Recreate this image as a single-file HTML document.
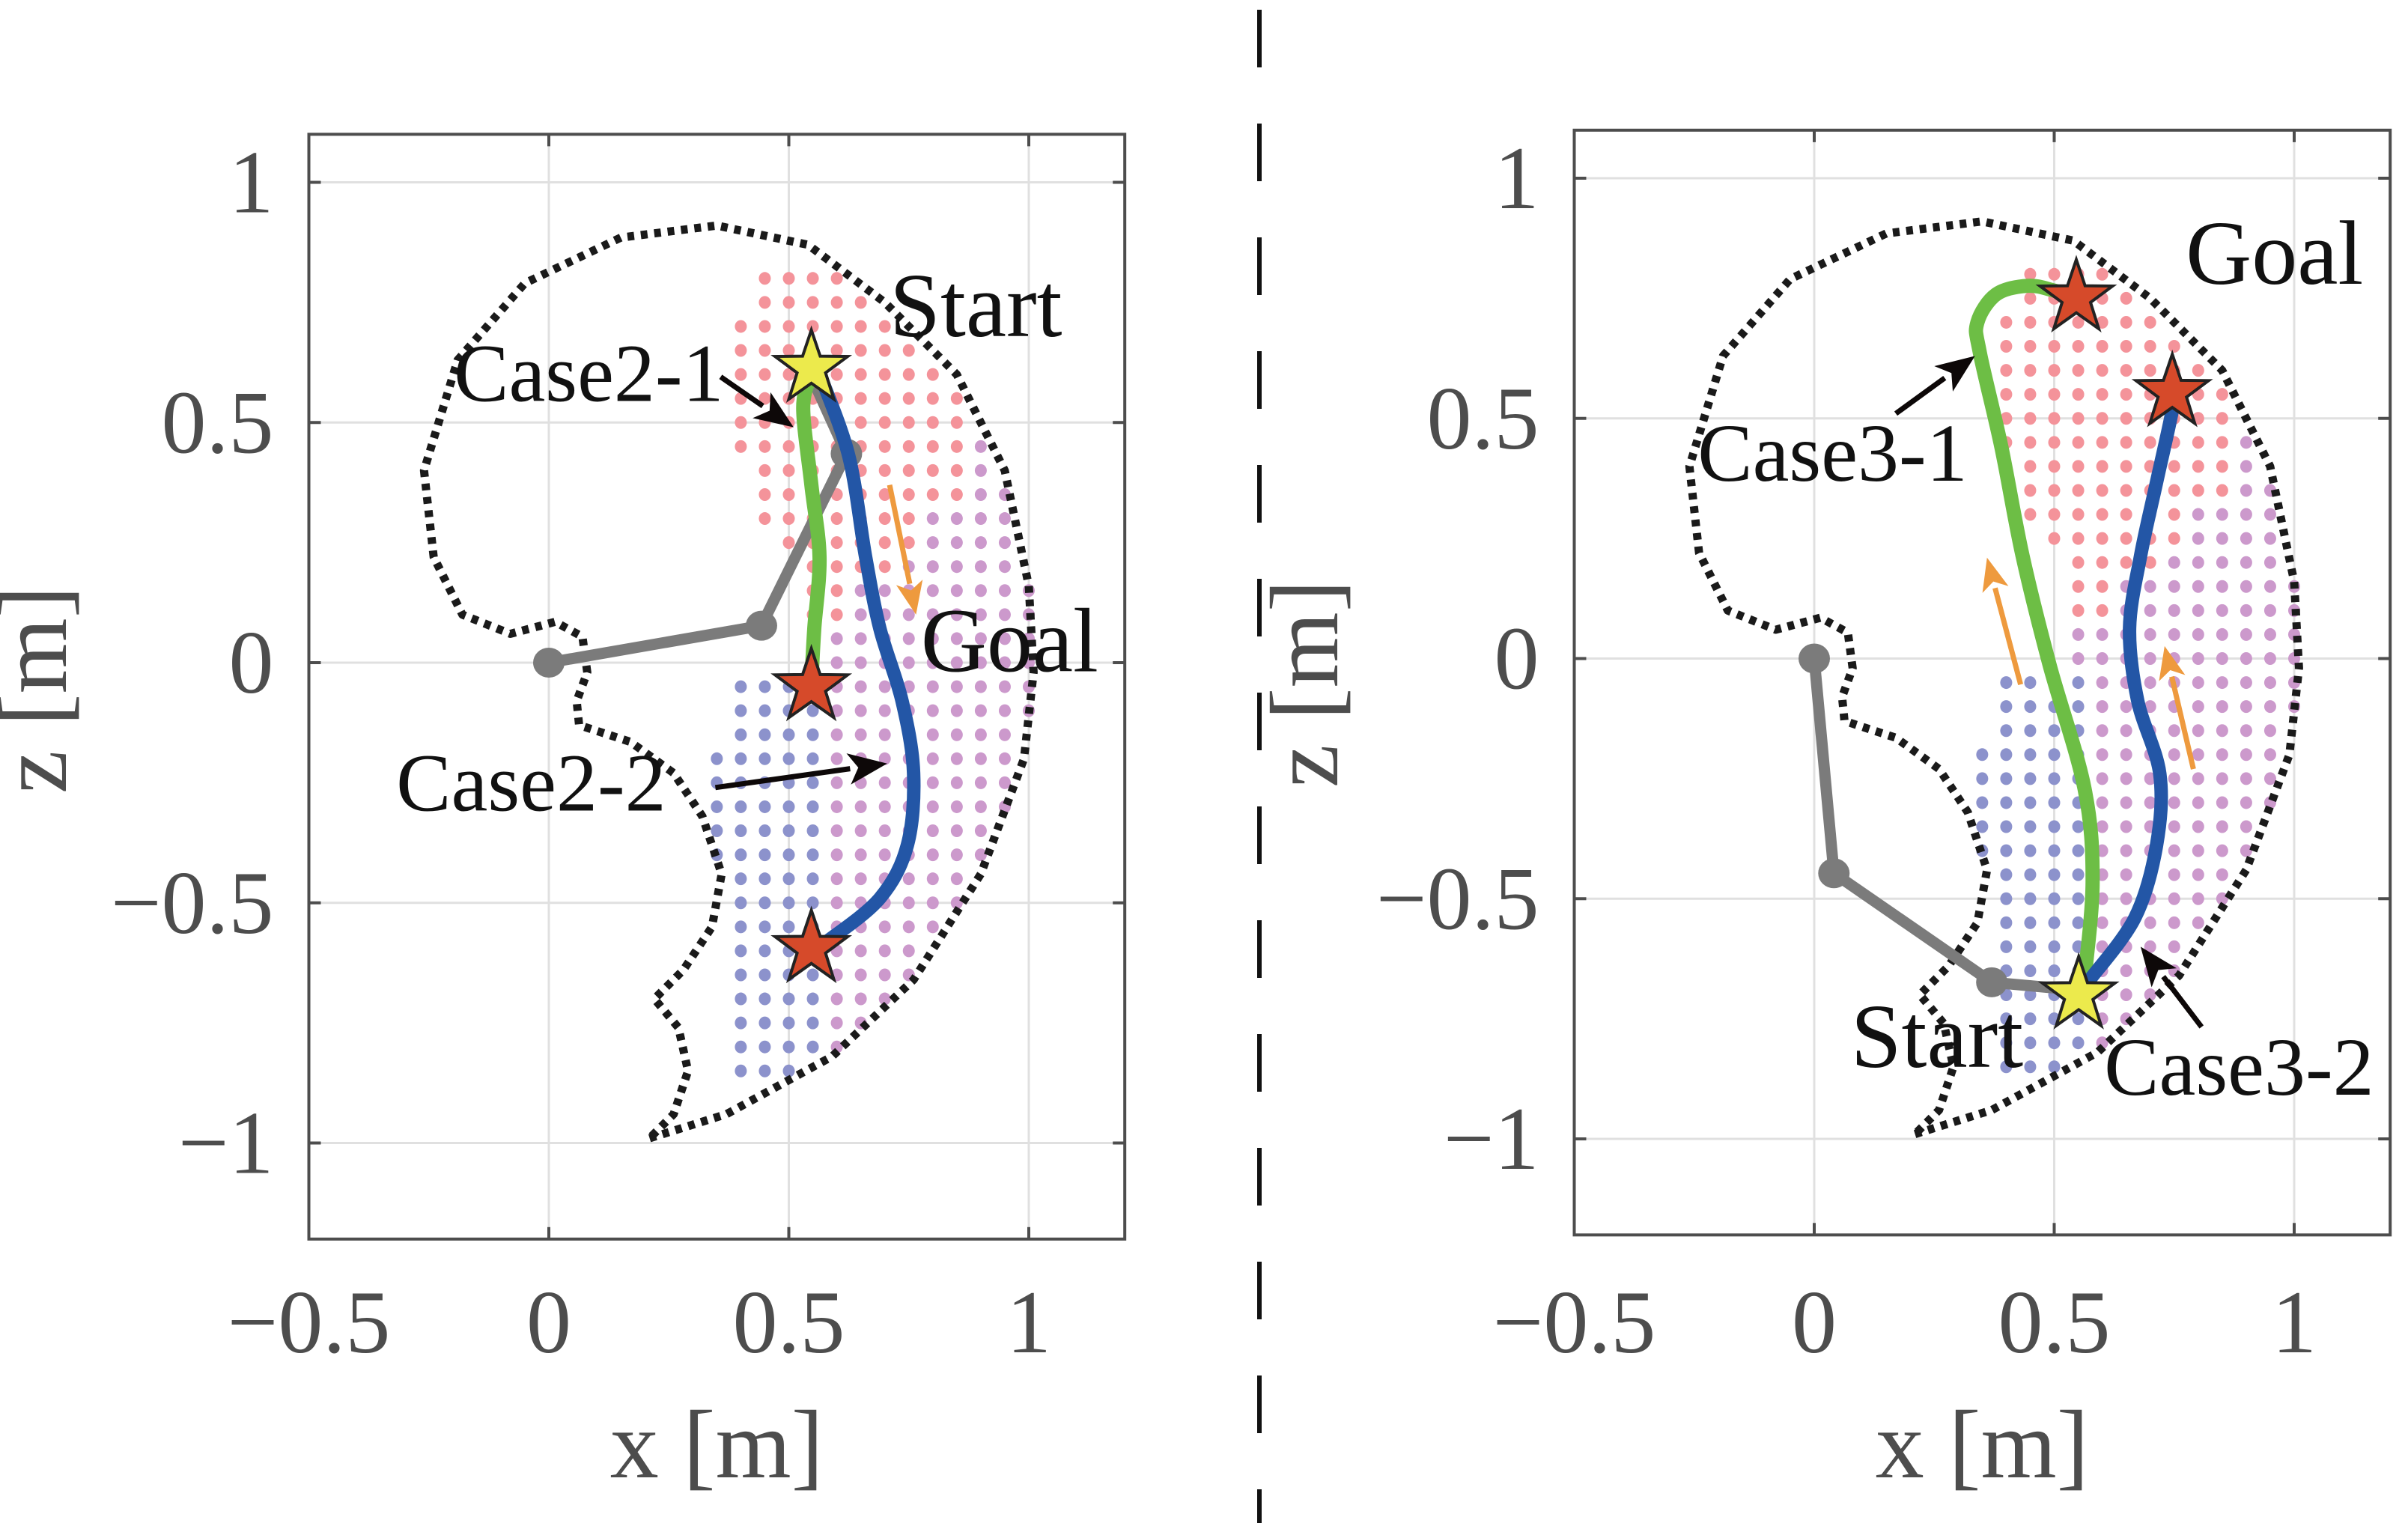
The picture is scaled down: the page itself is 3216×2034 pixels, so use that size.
<!DOCTYPE html>
<html><head><meta charset="utf-8"><title>Workspace trajectories</title>
<style>
html,body{margin:0;padding:0;background:#fff;}
svg{display:block;}
text{font-family:"Liberation Serif","Times New Roman",serif;}
</style></head>
<body>
<svg id="fig" width="3216" height="2034" viewBox="0 0 3216 2034" xmlns="http://www.w3.org/2000/svg">
<line x1="1682" y1="0" x2="1682" y2="2034" stroke="#111" stroke-width="6" stroke-dasharray="77 75" stroke-dashoffset="-13"/>
</svg>
<script>
// ---- data (shared) ----
const xTicks = [-0.5, 0, 0.5, 1];
const yTicks = [1, 0.5, 0, -0.5, -1];
const xTickLabels = ["\u22120.5", "0", "0.5", "1"];
const yTickLabels = ["1", "0.5", "0", "\u22120.5", "\u22121"];
const boundaryX = [0.21,0.37,0.59,0.76,0.90,0.99,1.01,1.00,0.95,0.85,0.70,0.54,0.35,0.15,-0.05,-0.19,-0.26,-0.24,-0.18,-0.08,0.013,0.07,0.08,0.058,0.063,0.17,0.26,0.32,0.36,0.34,0.28,0.22,0.27,0.29,0.26,0.21];
const boundaryY = [-0.99,-0.94,-0.82,-0.66,-0.44,-0.20,-0.02,0.16,0.40,0.60,0.75,0.87,0.91,0.885,0.79,0.63,0.40,0.22,0.10,0.06,0.085,0.054,-0.02,-0.08,-0.13,-0.165,-0.23,-0.32,-0.44,-0.55,-0.64,-0.70,-0.76,-0.85,-0.94,-0.99];
// dot grid region (data units)
const dotRowYs = [0.8,0.75,0.7,0.65,0.6,0.55,0.5,0.45,0.4,0.35,0.3,0.25,0.2,0.15,0.1,0.05,0,-0.05,-0.1,-0.15,-0.2,-0.25,-0.3,-0.35,-0.4,-0.45,-0.5,-0.55,-0.6,-0.65,-0.7,-0.75,-0.8,-0.85];
const dotRowXmin = [0.45,0.45,0.4,0.4,0.4,0.4,0.4,0.4,0.45,0.45,0.45,0.5,0.55,0.55,0.55,0.55,0.55,0.4,0.4,0.4,0.35,0.35,0.35,0.35,0.35,0.4,0.4,0.4,0.4,0.4,0.4,0.4,0.4,0.4];
const dotXs = [0.35,0.4,0.45,0.5,0.55,0.6,0.65,0.7,0.75,0.8,0.85,0.9,0.95,1.0];

// ---- panel 2 (left) data ----
const armLX = [0, 0.443, 0.62, 0.546];
const armLY = [0, 0.077, 0.435, 0.598];
const greenLX = [0.546,0.53,0.547,0.564,0.553,0.547];
const greenLY = [0.598,0.53,0.37,0.22,0.07,-0.04];
const blueLX = [0.565,0.625,0.66,0.69,0.736,0.76,0.747,0.69,0.58,0.547];
const blueLY = [0.6,0.43,0.22,0.07,-0.08,-0.23,-0.38,-0.49,-0.58,-0.6];
const starsLX = [0.547,0.547,0.547];
const starsLY = [0.613,-0.05,-0.595];
const starsLFill = ["#ecea4c","#d64a2a","#d64a2a"];

// ---- panel 3 (right) data ----
const armRX = [0, 0.041, 0.37, 0.546];
const armRY = [0, -0.447, -0.674, -0.69];
const greenRX = [0.562,0.58,0.563,0.49,0.434,0.39,0.345,0.34,0.379,0.445,0.50,0.546];
const greenRY = [-0.677,-0.465,-0.27,-0.012,0.214,0.44,0.637,0.70,0.758,0.776,0.766,0.751];
const blueRX = [0.573,0.668,0.713,0.72,0.674,0.657,0.68,0.713,0.746,0.746];
const blueRY = [-0.67,-0.54,-0.39,-0.24,-0.088,0.063,0.214,0.366,0.517,0.554];
const starsRX = [0.551,0.546,0.746];
const starsRY = [-0.70,0.751,0.554];
const starsRFill = ["#ecea4c","#d64a2a","#d64a2a"];

const NS = "http://www.w3.org/2000/svg";
const svg = document.getElementById("fig");
function mk(tag, attrs, parent) {
  const e = document.createElementNS(NS, tag);
  for (const k in attrs) e.setAttribute(k, attrs[k]);
  (parent || svg).appendChild(e);
  return e;
}
function inside(px, py) {
  let c = false;
  for (let i = 0, j = boundaryX.length - 1; i < boundaryX.length; j = i++) {
    const xi = boundaryX[i], yi = boundaryY[i], xj = boundaryX[j], yj = boundaryY[j];
    if (((yi > py) !== (yj > py)) && (px < (xj - xi) * (py - yi) / (yj - yi) + xi)) c = !c;
  }
  return c;
}
function dotColor(x, y) {
  if (y < 0 && x <= 0.575) return "#8c92cc";
  if (x >= 0.875 || y < x - 0.5) return "#cc99cc";
  return "#f4939a";
}

function panel(cfg) {
  const sx = v => cfg.x0 + v * cfg.ux;
  const sy = v => cfg.y0 - v * cfg.uy;
  const g = mk("g", {});
  
  
  const L = sx(-0.5), R = sx(1.2), T = sy(1.1), B = sy(-1.2);
  xTicks.forEach(t => {
    const l = mk("line", {x1: sx(t), x2: sx(t), y1: T, y2: B, stroke: "#e0e0e0", "stroke-width": 3}, g);
    
    
  });
  yTicks.forEach(t => {
    const l = mk("line", {x1: L, x2: R, y1: sy(t), y2: sy(t), stroke: "#e0e0e0", "stroke-width": 3}, g);
    
    
  });
  const dg = mk("g", {}, g);
  
  
  dotRowYs.forEach((y, ri) => {
    dotXs.forEach(x => {
      if (x < dotRowXmin[ri] - 1e-6) return;
      if (!inside(x, y)) return;
      const c = mk("ellipse", {cx: sx(x), cy: sy(y), rx: 8, ry: 8.5, fill: dotColor(x, y)}, dg);
      
      
    });
  });
  let d = boundaryX.map((x, i) => (i ? "L" : "M") + sx(x).toFixed(1) + "," + sy(boundaryY[i]).toFixed(1)).join(" ");
  const bd = mk("path", {d: d, fill: "none", stroke: "#1a1a1a", "stroke-width": 11, "stroke-dasharray": "9 9", "stroke-linejoin": "round"}, g);
  
  
  cfg.orange.forEach(a => arrow(g, sx(a[0]), sy(a[1]), sx(a[2]), sy(a[3]), "#ee9a3e", 7, 44, 18, 'direction-arrow'));
  const ap = cfg.armX.map((x, i) => (i ? "L" : "M") + sx(x) + "," + sy(cfg.armY[i])).join(" ");
  const arm = mk("path", {d: ap, fill: "none", stroke: "#7b7b7b", "stroke-width": 15, "stroke-linejoin": "round"}, g);
  
  
  for (let i = 0; i < 3; i++) {
    const j = mk("ellipse", {cx: sx(cfg.armX[i]), cy: sy(cfg.armY[i]), rx: 21, ry: 20, fill: "#7b7b7b"}, g);
    
    
  }
  function smooth(xs, ys) {
    const p = xs.map((x, i) => [sx(x), sy(ys[i])]);
    let s = "M" + p[0][0] + "," + p[0][1];
    for (let i = 0; i < p.length - 1; i++) {
      const p0 = p[Math.max(0, i - 1)], p1 = p[i], p2 = p[i + 1], p3 = p[Math.min(p.length - 1, i + 2)];
      const c1x = p1[0] + (p2[0] - p0[0]) / 6, c1y = p1[1] + (p2[1] - p0[1]) / 6;
      const c2x = p2[0] - (p3[0] - p1[0]) / 6, c2y = p2[1] - (p3[1] - p1[1]) / 6;
      s += " C" + c1x + "," + c1y + " " + c2x + "," + c2y + " " + p2[0] + "," + p2[1];
    }
    return s;
  }
  const gr = mk("path", {d: smooth(cfg.greenX, cfg.greenY), fill: "none", stroke: "#6dbe45", "stroke-width": 19, "stroke-linecap": "round"}, g);
  
  
  const bl = mk("path", {d: smooth(cfg.blueX, cfg.blueY), fill: "none", stroke: "#2356a6", "stroke-width": 18, "stroke-linecap": "round"}, g);
  
  
  cfg.starX.forEach((x, i) => {
    const cx = sx(x), cy = sy(cfg.starY[i]);
    let pts = [];
    for (let k = 0; k < 10; k++) {
      const r = k % 2 ? 20 : 51, a = -Math.PI / 2 + k * Math.PI / 5;
      pts.push((cx + r * Math.cos(a)).toFixed(1) + "," + (cy + r * Math.sin(a)).toFixed(1));
    }
    const st = mk("polygon", {points: pts.join(" "), fill: cfg.starFill[i], stroke: "#222", "stroke-width": 4, "stroke-linejoin": "miter"}, g);
    
    
  });
  cfg.black.forEach(a => arrow(g, sx(a[0]), sy(a[1]), sx(a[2]), sy(a[3]), "#0d0808", 7, 52, 21, 'annotation-arrow'));
  cfg.labels.forEach(lb => {
    const t = mk("text", {x: sx(lb[0]), y: sy(lb[1]), "font-size": lb[3], fill: "#111"}, g);
    t.textContent = lb[2];
    
    
  });
  const box = mk("rect", {x: L, y: T, width: R - L, height: B - T, fill: "none", stroke: "#4d4d4d", "stroke-width": 4}, g);
  
  
  xTicks.forEach((t, i) => {
    mk("line", {x1: sx(t), x2: sx(t), y1: B, y2: B - 16, stroke: "#4d4d4d", "stroke-width": 4}, g);
    mk("line", {x1: sx(t), x2: sx(t), y1: T, y2: T + 16, stroke: "#4d4d4d", "stroke-width": 4}, g);
    const tl = mk("text", {x: sx(t), y: 1806, "font-size": 120, fill: "#4d4d4d", "text-anchor": "middle"}, g);
    tl.textContent = xTickLabels[i];
    
    
  });
  yTicks.forEach((t, i) => {
    mk("line", {x1: L, x2: L + 16, y1: sy(t), y2: sy(t), stroke: "#4d4d4d", "stroke-width": 4}, g);
    mk("line", {x1: R, x2: R - 16, y1: sy(t), y2: sy(t), stroke: "#4d4d4d", "stroke-width": 4}, g);
    const tl = mk("text", {x: L - 47, y: sy(t) + 40, "font-size": 120, fill: "#4d4d4d", "text-anchor": "end"}, g);
    tl.textContent = yTickLabels[i];
    
    
  });
  const xl = mk("text", {x: (L + R) / 2, y: 1973, "font-size": 130, fill: "#4d4d4d", "text-anchor": "middle"}, g);
  xl.textContent = "x [m]";
  
  
  const zl = mk("text", {x: 0, y: 0, "font-size": 130, fill: "#4d4d4d", "text-anchor": "middle", transform: "translate(" + (cfg.zx + 44) + "," + cfg.zy + ") rotate(-90)"}, g);
  zl.textContent = "z [m]";
  
  
}
function arrow(g, x1, y1, x2, y2, col, w, hl, hw, name) {
  const dx = x2 - x1, dy = y2 - y1, len = Math.hypot(dx, dy), ux = dx / len, uy = dy / len;
  const bx = x2 - ux * hl, by = y2 - uy * hl;
  const ln = mk("line", {x1: x1, y1: y1, x2: bx + ux * 2, y2: by + uy * 2, stroke: col, "stroke-width": w}, g);
  
  
  const hd = mk("polygon", {points: x2 + "," + y2 + " " + (bx - uy * hw) + "," + (by + ux * hw) + " " + (bx + ux * hl * 0.25) + "," + (by + uy * hl * 0.25) + " " + (bx + uy * hw) + "," + (by - ux * hw), fill: col}, g);
  
  
}

panel({name: "panel-case2", x0: 733, ux: 641, y0: 885, uy: 641.5, zx: 44, zy: 921,
  armX: armLX, armY: armLY, greenX: greenLX, greenY: greenLY, blueX: blueLX, blueY: blueLY,
  greenName: "trajectory-case2-1", blueName: "trajectory-case2-2",
  starX: starsLX, starY: starsLY, starFill: starsLFill,
  orange: [[0.71, 0.37, 0.765, 0.10]],
  black: [[0.358, 0.595, 0.51, 0.49], [0.347, -0.26, 0.705, -0.21]],
  labels: [[0.71, 0.68, "Start", 122, "start-label"], [-0.198, 0.545, "Case2-1", 110, "case2-1-label"],
           [0.775, -0.018, "Goal", 122, "goal-label"], [-0.318, -0.308, "Case2-2", 110, "case2-2-label"]]});

panel({name: "panel-case3", x0: 2423, ux: 641, y0: 879.5, uy: 641.5, zx: 1742, zy: 913,
  armX: armRX, armY: armRY, greenX: greenRX, greenY: greenRY, blueX: blueRX, blueY: blueRY,
  greenName: "trajectory-case3-1", blueName: "trajectory-case3-2",
  starX: starsRX, starY: starsRY, starFill: starsRFill,
  orange: [[0.43, -0.054, 0.36, 0.21], [0.79, -0.23, 0.73, 0.026]],
  black: [[0.17, 0.51, 0.335, 0.63], [0.807, -0.767, 0.68, -0.60]],
  labels: [[0.774, 0.78, "Goal", 122, "goal-label"], [-0.243, 0.37, "Case3-1", 110, "case3-1-label"],
           [0.076, -0.85, "Start", 122, "start-label"], [0.604, -0.908, "Case3-2", 110, "case3-2-label"]]});
</script>
</body></html>
